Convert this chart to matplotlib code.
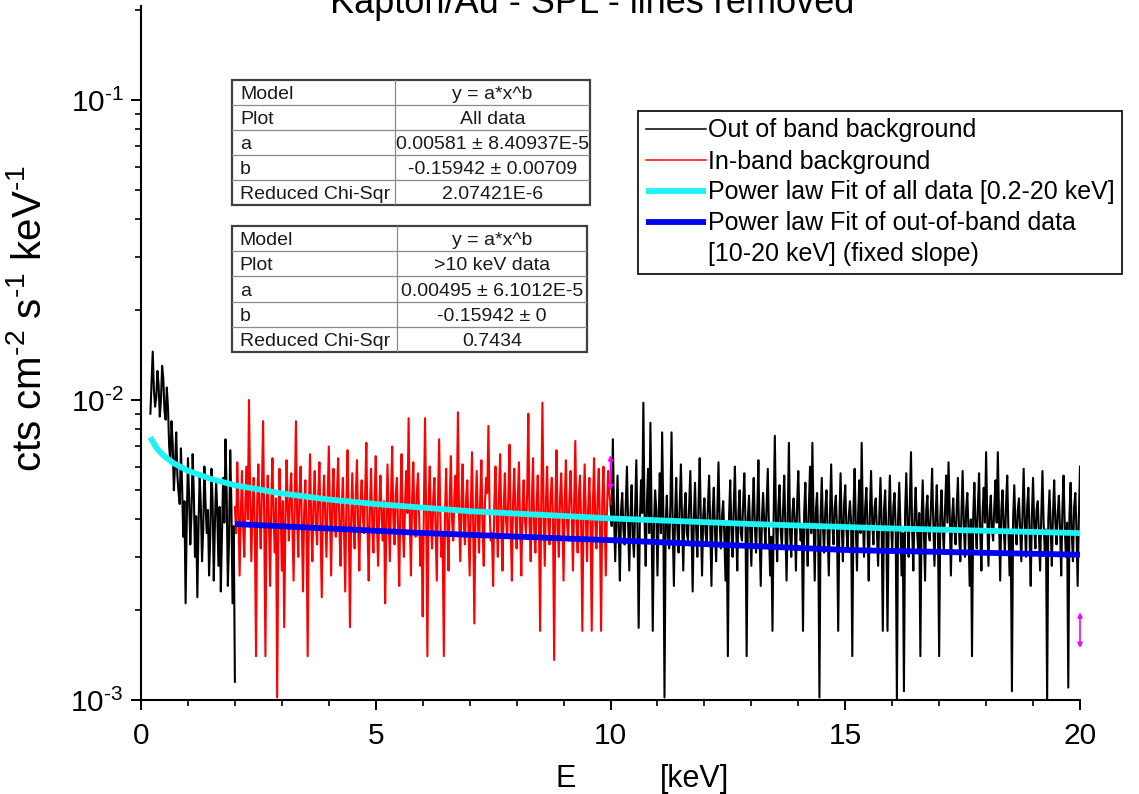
import numpy as np
import matplotlib
matplotlib.use('Agg')
import matplotlib.pyplot as plt
from matplotlib.ticker import LogLocator, NullFormatter, MultipleLocator, FixedLocator, FuncFormatter
from matplotlib.patches import Rectangle
from matplotlib.lines import Line2D

plt.rcParams['font.family'] = ['Liberation Sans', 'DejaVu Sans']
plt.rcParams['mathtext.fontset'] = 'custom'
plt.rcParams['mathtext.rm'] = 'Liberation Sans'
plt.rcParams['mathtext.it'] = 'Liberation Sans:italic'
plt.rcParams['mathtext.bf'] = 'Liberation Sans:bold'
plt.rcParams['mathtext.default'] = 'regular'

# ---------------- data (counts in units of 1e-3 cts cm^-2 s^-1 keV^-1), 0.025 keV bins ----------------
# Out-of-band background, 0.2 - 2 keV
oob_low_vals = [9.0, 11.5, 14.5, 10.8, 9.5, 10.2, 12.5, 11.2, 8.8, 10.0,
                13.0, 11.8, 9.2, 8.6, 11.0, 9.4, 7.0, 6.2, 8.5, 7.2,
                5.0, 6.1, 7.8, 5.6, 4.9, 4.5, 6.9, 5.2, 3.5, 4.6,
                2.1, 4.0, 6.4, 4.7, 3.3, 4.2, 6.6, 4.9, 3.0, 4.1,
                2.2, 3.8, 5.6, 4.4, 2.9, 3.7, 6.0, 4.5, 3.6, 4.3,
                2.6, 3.5, 5.9, 4.6, 2.5, 3.9, 5.4, 4.2, 2.8, 4.4,
                2.3, 3.6, 5.5, 3.9, 7.4, 4.8, 2.4, 3.4, 6.8, 4.5,
                2.1, 3.8, 1.15]
oob_low_range = (0.2, 2.0)

# In-band background, 2 - 10 keV
inband_vals = [4.4, 3.6, 6.2, 4.5, 2.6, 4.1, 5.8, 3.8, 3.0, 4.7, 6.0, 4.0, 10.0, 4.8, 2.9, 4.3, 5.5, 3.7, 1.4, 4.6,
               6.1, 4.2, 3.2, 5.0, 8.5, 3.9, 1.4, 4.4, 5.6, 3.9, 2.4, 4.6, 6.4, 4.0, 3.1, 4.7, 1.02, 3.5, 5.9, 4.3,
               2.7, 4.6, 1.75, 3.8, 6.3, 4.4, 3.4, 4.9, 5.7, 3.7, 2.5, 4.5, 8.5, 4.1, 3.0, 4.8, 6.0, 3.9, 2.3, 4.2,
               5.4, 3.8, 1.4, 4.3, 6.6, 4.0, 2.9, 4.6, 5.8, 3.9, 3.3, 4.8, 6.2, 3.7, 2.2, 4.4, 5.6, 4.1, 3.0, 4.5,
               7.0, 4.2, 2.6, 4.7, 5.9, 3.9, 3.5, 4.9, 6.4, 3.8, 2.8, 4.4, 5.5, 3.6, 2.3, 4.6, 6.8, 4.0, 1.75, 3.9,
               5.7, 4.0, 3.2, 4.8, 6.3, 3.8, 2.7, 4.5, 5.4, 4.1, 3.6, 5.0, 7.2, 3.7, 2.5, 4.3, 5.9, 3.9, 3.1, 4.6,
               6.5, 3.9, 2.8, 4.4, 5.6, 4.1, 3.4, 4.6, 2.1, 3.7, 6.1, 4.2, 2.9, 4.7, 7.0, 4.0, 3.3, 4.8, 5.5, 3.8,
               2.4, 4.5, 6.6, 3.8, 3.0, 4.6, 5.8, 4.2, 8.7, 4.0, 2.6, 4.7, 6.2, 3.9, 3.5, 4.9, 5.7, 4.1, 2.8, 3.6,
               1.9, 4.4, 8.7, 4.0, 1.4, 4.5, 6.0, 3.9, 3.2, 4.7, 5.5, 3.7, 2.5, 4.6, 7.4, 4.1, 3.0, 3.5, 1.4, 4.2,
               5.9, 3.8, 2.7, 4.6, 6.5, 4.0, 3.4, 4.8, 5.6, 4.3, 9.1, 4.1, 2.9, 4.5, 6.1, 3.9, 3.3, 4.7, 5.4, 3.7,
               2.6, 4.4, 6.7, 3.9, 1.8, 4.2, 5.8, 4.0, 3.1, 4.7, 6.3, 3.8, 2.8, 4.5, 5.5, 4.9, 8.2, 4.3, 3.4, 3.6,
               2.4, 4.5, 6.0, 4.1, 3.0, 4.8, 6.6, 3.9, 2.7, 4.4, 5.7, 4.0, 3.5, 4.9, 7.1, 3.7, 2.5, 4.6, 5.9, 4.2,
               3.2, 4.7, 6.2, 3.8, 2.6, 4.3, 5.4, 4.0, 3.6, 4.9, 9.0, 3.9, 2.9, 4.6, 6.4, 3.7, 3.1, 4.4, 5.6, 4.1,
               1.7, 4.5, 9.8, 4.2, 2.8, 4.6, 6.0, 3.9, 3.3, 4.8, 5.5, 4.0, 1.36, 4.4, 6.8, 3.8, 3.0, 4.7, 5.7, 4.1,
               2.5, 4.6, 6.3, 3.9, 3.4, 4.7, 5.8, 4.2, 2.7, 4.4, 7.3, 4.0, 3.1, 4.8, 5.6, 3.8, 1.7, 4.3, 6.1, 4.0,
               2.9, 4.4, 5.5, 3.9, 1.7, 4.5, 6.4, 4.0, 3.2, 4.7, 5.9, 3.8, 1.7, 4.6, 6.0, 4.1, 2.6, 4.3, 5.8, 4.9,
               4.5]
inband_range = (2.0, 10.0)

# Out-of-band background, 10 - 20 keV
oob_high_vals = [4.5, 3.8, 7.4, 4.2, 2.9, 4.0, 5.6, 3.6, 2.5, 4.3, 4.9, 3.7, 3.3, 4.4, 6.0, 3.9, 2.7, 4.1, 5.2, 3.5,
                 3.0, 4.4, 6.3, 3.7, 1.74, 3.9, 5.4, 4.2, 9.8, 4.0, 2.8, 4.5, 5.9, 3.6, 8.4, 4.1, 1.7, 3.8, 5.0, 4.3,
                 2.6, 4.0, 5.7, 3.6, 7.8, 4.2, 1.02, 3.9, 4.8, 3.5, 3.2, 4.4, 7.8, 3.8, 2.4, 4.1, 5.5, 3.7, 3.1, 4.5,
                 6.1, 3.9, 2.7, 4.3, 4.9, 3.6, 3.4, 4.4, 5.8, 3.8, 2.3, 4.0, 5.3, 3.7, 3.0, 4.5, 6.4, 3.9, 2.6, 4.1,
                 4.7, 3.6, 3.3, 4.4, 5.6, 3.8, 2.4, 4.2, 5.1, 3.7, 2.9, 4.3, 6.2, 3.9, 3.2, 4.1, 4.6, 3.5, 2.5, 3.8,
                 1.4, 4.1, 5.4, 3.7, 3.0, 4.4, 6.0, 3.8, 2.7, 4.2, 5.0, 3.6, 3.4, 4.5, 5.7, 3.9, 1.4, 4.0, 4.8, 3.7,
                 2.8, 4.3, 5.5, 3.8, 3.1, 4.2, 6.3, 3.6, 2.4, 4.0, 4.9, 3.9, 3.3, 4.4, 5.9, 3.7, 2.6, 3.5, 1.7, 4.1,
                 7.6, 3.9, 2.9, 4.4, 5.2, 3.7, 3.2, 4.3, 5.6, 3.8, 2.5, 4.1, 7.2, 3.6, 3.0, 4.2, 4.7, 3.9, 2.7, 4.5,
                 5.8, 4.0, 3.4, 3.8, 1.7, 4.2, 5.3, 3.7, 2.8, 4.4, 6.0, 3.6, 7.2, 4.0, 2.5, 4.3, 4.9, 3.5, 1.02, 4.1,
                 5.5, 3.8, 3.1, 4.3, 5.0, 3.6, 2.6, 4.2, 6.1, 3.9, 3.3, 4.4, 4.8, 3.7, 1.7, 4.0, 5.7, 3.8, 2.9, 4.5,
                 5.2, 3.7, 3.2, 4.1, 4.6, 3.9, 1.4, 4.3, 5.9, 3.8, 2.7, 4.2, 5.4, 3.6, 7.2, 4.0, 3.0, 4.4, 5.1, 3.7,
                 2.5, 4.2, 5.8, 3.9, 3.3, 4.4, 4.7, 3.6, 2.8, 4.1, 5.5, 3.8, 1.7, 4.3, 5.0, 3.7, 1.7, 4.0, 5.6, 3.9,
                 3.1, 4.4, 4.9, 3.7, 1.0, 4.0, 5.3, 3.8, 2.6, 3.6, 1.07, 4.2, 5.7, 3.9, 3.0, 4.5, 6.7, 3.7, 2.7, 4.1,
                 5.1, 3.8, 3.2, 4.2, 1.4, 4.0, 5.4, 3.7, 2.5, 4.3, 4.8, 3.6, 3.4, 4.4, 5.9, 3.9, 2.8, 4.1, 5.2, 3.6,
                 1.4, 4.1, 5.0, 3.8, 3.1, 4.3, 5.6, 3.9, 6.2, 4.2, 2.6, 4.0, 4.7, 3.7, 3.3, 4.4, 5.5, 3.6, 2.9, 4.2,
                 5.8, 3.9, 3.0, 4.3, 4.9, 3.7, 2.4, 4.0, 1.4, 4.1, 5.3, 3.8, 3.2, 4.4, 5.7, 3.6, 2.7, 4.2, 5.1, 3.9,
                 6.7, 4.0, 2.8, 4.2, 4.8, 3.7, 3.4, 4.4, 5.4, 3.9, 6.7, 4.1, 2.5, 4.3, 5.0, 3.8, 3.1, 4.5, 5.6, 3.7,
                 2.6, 3.6, 1.07, 4.0, 5.2, 3.8, 3.3, 4.3, 4.7, 3.7, 2.9, 4.2, 5.9, 3.9, 3.0, 4.4, 5.1, 3.6, 2.4, 4.1,
                 5.5, 3.8, 3.2, 4.3, 4.6, 3.6, 2.7, 4.1, 5.8, 3.9, 3.1, 3.7, 1.0, 4.0, 5.0, 3.8, 2.8, 4.2, 5.4, 3.9,
                 3.3, 4.2, 4.8, 3.7, 2.6, 4.3, 5.6, 3.8, 3.0, 3.9, 1.1, 4.1, 5.3, 3.6, 2.9, 4.4, 4.9, 3.7, 2.4, 4.0,
                 6.0]
oob_high_range = (10.0, 20.0)

# Power-law fit of all data
fit_all_E = [0.2, 0.3, 0.4, 0.5, 0.7, 1.0, 1.5, 2.0, 3.0, 4.0, 5.0, 7.0, 10.0, 13.0, 16.0, 20.0]
fit_all_vals = [7.51, 7.04, 6.72, 6.49, 6.15, 5.81, 5.45, 5.20, 4.88, 4.66, 4.50, 4.26, 4.03, 3.86, 3.73, 3.60]

# Power-law fit of out-of-band data (fixed slope)
fit_oob_E = [2.0, 6.05, 10.0, 15.1, 20.0]
fit_oob_vals = [3.86, 3.60, 3.41, 3.16, 3.05]

# magenta markers
mark_E = [10.0, 20.0]
mark_top = [6.55, 1.96]
mark_bot = [5.00, 1.49]

legend_labels = ["Out of band background", "In-band background",
                 "Power law Fit of all data [0.2-20 keV]",
                 "Power law Fit of out-of-band data",
                 "[10-20 keV] (fixed slope)"]

table_rows = ["Model", "Plot", "a", "b", "Reduced Chi-Sqr"]
table1_vals = ["y = a*x^b", "All data", "0.00581 \u00b1 8.40937E-5", "-0.15942 \u00b1 0.00709", "2.07421E-6"]
table2_vals = ["y = a*x^b", ">10 keV data", "0.00495 \u00b1 6.1012E-5", "-0.15942 \u00b1 0", "0.7434"]

title = "Kapton/Au - SPL - lines removed"

SCALE = 1e-3

# ---------------- figure ----------------
W, H = 1139, 794
fig = plt.figure(figsize=(W / 100, H / 100), dpi=100)
ax = fig.add_axes([141 / W, 1 - 700 / H, 939 / W, 694 / H])


def grid(rng, vals):
    return np.linspace(rng[0], rng[1], len(vals))


DATA_LW = 1.5
l_black, = ax.plot(grid(oob_low_range, oob_low_vals), np.array(oob_low_vals) * SCALE,
                   color='black', lw=DATA_LW, label=legend_labels[0])
ax.plot(grid(oob_high_range, oob_high_vals), np.array(oob_high_vals) * SCALE,
        color='black', lw=DATA_LW)
l_red, = ax.plot(grid(inband_range, inband_vals), np.array(inband_vals) * SCALE,
                 color='#ff0000', lw=DATA_LW, label=legend_labels[1])
l_cyan, = ax.plot(fit_all_E, np.array(fit_all_vals) * SCALE, color='#1ef2f2', lw=4.2,
                  solid_capstyle='butt', label=legend_labels[2])
l_blue, = ax.plot(fit_oob_E, np.array(fit_oob_vals) * SCALE, color='#0000f0', lw=4.2,
                  solid_capstyle='butt', label=legend_labels[3])
l_none = Line2D([], [], color='none', label=legend_labels[4])

for e, t, b in zip(mark_E, mark_top, mark_bot):
    ax.annotate('', xy=(e, t * SCALE), xytext=(e, b * SCALE),
                arrowprops=dict(arrowstyle='<|-|>', color='#ff00ff', lw=1.2,
                                mutation_scale=7, shrinkA=0, shrinkB=0))

ax.set_yscale('log')
ax.set_xlim(0, 20)
ax.set_ylim(1e-3, 10 ** (-1 + 94 / 300))
ax.xaxis.set_major_locator(FixedLocator([0, 5, 10, 15, 20]))
ax.xaxis.set_minor_locator(MultipleLocator(1))
ax.yaxis.set_major_locator(LogLocator(base=10, numticks=10))
ax.yaxis.set_minor_locator(LogLocator(base=10, subs=np.arange(2, 10), numticks=20))
ax.yaxis.set_minor_formatter(NullFormatter())
ax.yaxis.set_major_formatter(FuncFormatter(
    lambda v, p: r'$10^{\text{%d}}$' % int(round(np.log10(v))) if v > 0 else ''))

for s in ['top', 'right']:
    ax.spines[s].set_visible(False)
for s in ['left', 'bottom']:
    ax.spines[s].set_linewidth(1.5)
ax.tick_params(which='major', direction='out', length=7.5, width=1.4, labelsize=21.5)
ax.tick_params(which='minor', direction='out', length=4, width=1.2)
ax.tick_params(axis='x', which='major', pad=8)
ax.tick_params(axis='y', which='major', pad=5)

# axis labels
fig.text(30 / W, 1 - 318 / H, r'cts cm$^{\text{-2}}$ s$^{\text{-1}}$ keV$^{\text{-1}}$', rotation=90,
         ha='center', va='center', fontsize=29)
fig.text(566 / W, 1 - 787 / H, 'E', ha='center', va='baseline', fontsize=22)
fig.text(695 / W, 1 - 787 / H, '[keV]', ha='center', va='baseline', fontsize=22)

# title (partly cut off at the top, as in the reference)
fig.text(592 / W, 1 - 13 / H, title, ha='center', va='baseline', fontsize=26)

# legend
leg = ax.legend(handles=[l_black, l_red, l_cyan, l_blue, l_none], loc='upper left',
                bbox_to_anchor=(638 / W, 1 - 111 / H), bbox_transform=fig.transFigure,
                fontsize=18, frameon=True, fancybox=False, borderaxespad=0,
                borderpad=0.3, handlelength=2.4, handletextpad=0.1, labelspacing=0.28)
leg.get_frame().set_edgecolor('black')
leg.get_frame().set_linewidth(1.2)
leg.get_frame().set_alpha(1)
leg.legend_handles[0].set_linewidth(1.1)
leg.legend_handles[1].set_linewidth(1.1)


# parameter tables
def draw_table(x0, y0, x1, y1, split_px, labels, values):
    rect = [x0 / W, 1 - y1 / H, (x1 - x0) / W, (y1 - y0) / H]
    tax = fig.add_axes(rect)
    n = len(labels)
    tax.set_xlim(0, 1)
    tax.set_ylim(0, n)
    tax.axis('off')
    split = (split_px - x0) / (x1 - x0)
    for k in range(1, n):
        tax.plot([0, 1], [k, k], color='#8a8a8a', lw=0.9)
    tax.plot([split, split], [0, n], color='#8a8a8a', lw=0.9)
    tax.add_patch(Rectangle((0, 0), 1, n, fill=False, edgecolor='#404040', lw=1.6,
                            clip_on=False))
    for k, (lab, val) in enumerate(zip(labels, values)):
        yc = n - k - 0.5
        tax.text(0.022, yc, lab, ha='left', va='center_baseline', fontsize=14, color='#1a1a1a')
        tax.text((split + 1) / 2, yc, val, ha='center', va='center_baseline', fontsize=14,
                 color='#1a1a1a')


draw_table(232, 80, 590, 205, 395, table_rows, table1_vals)
draw_table(232, 226, 587, 352, 397, table_rows, table2_vals)

fig.savefig('out.png', dpi=100)
